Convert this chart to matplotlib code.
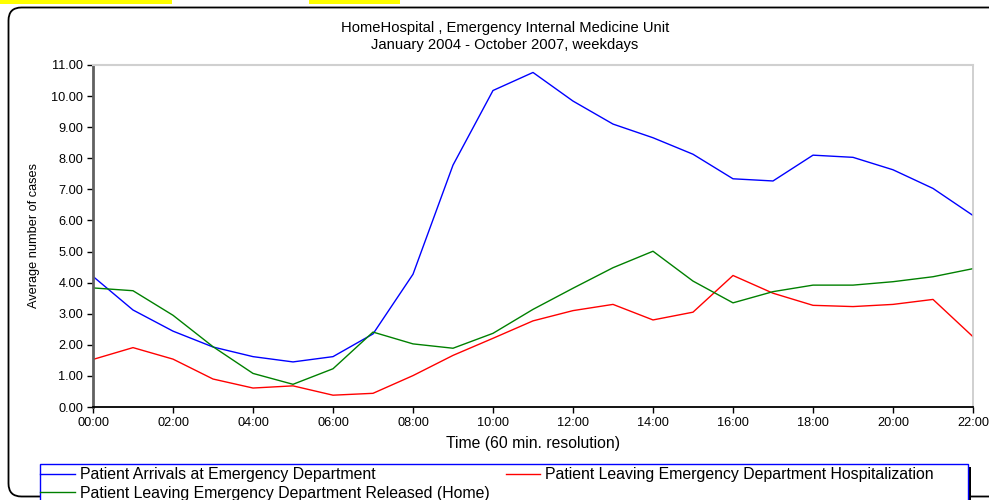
import matplotlib
matplotlib.use("Agg")
import matplotlib.pyplot as plt
from matplotlib.patches import FancyBboxPatch, Rectangle
from matplotlib.lines import Line2D

plt.rcParams["font.family"] = ["Liberation Sans", "DejaVu Sans"]

hours = list(range(23))
tick_hours = list(range(0, 23, 2))
tick_labels = [f"{h:02d}:00" for h in tick_hours]

arrivals = [4.20, 3.12, 2.44, 1.93, 1.62, 1.45, 1.62, 2.35, 4.27, 7.78, 10.18, 10.76,
            9.84, 9.10, 8.66, 8.13, 7.34, 7.27, 8.10, 8.03, 7.63, 7.03, 6.16]
hospitalized = [1.53, 1.91, 1.54, 0.90, 0.61, 0.68, 0.38, 0.44, 1.01, 1.66, 2.21, 2.77,
                3.10, 3.30, 2.80, 3.05, 4.23, 3.66, 3.27, 3.23, 3.30, 3.46, 2.26]
released = [3.83, 3.74, 2.95, 1.94, 1.08, 0.73, 1.23, 2.41, 2.03, 1.89, 2.37, 3.14,
            3.82, 4.48, 5.01, 4.05, 3.35, 3.71, 3.92, 3.92, 4.03, 4.19, 4.45]

y_ticks = [i for i in range(12)]
y_tick_labels = [f"{v:.2f}" for v in y_ticks]

W, H = 989, 500
fig = plt.figure(figsize=(W / 100, H / 100), dpi=100)

# Page-level decorations in pixel coordinates
bg = fig.add_axes([0, 0, 1, 1], zorder=0)
bg.set_xlim(0, W)
bg.set_ylim(H, 0)
bg.axis("off")
bg.add_patch(Rectangle((0, -2), 172, 6, facecolor="#ffff00", edgecolor="none"))
bg.add_patch(Rectangle((309, -2), 91, 6, facecolor="#ffff00", edgecolor="none"))
bg.add_patch(FancyBboxPatch((8.5, 7.5), 1100, 489,
                            boxstyle="round,pad=0,rounding_size=13",
                            facecolor="white", edgecolor="black", linewidth=1.3))
# legend box with dark shadow on the right
bg.add_patch(Rectangle((42, 467), 929, 60, facecolor="black", edgecolor="none"))
bg.add_patch(Rectangle((39.5, 463.5), 928, 60, facecolor="white",
                       edgecolor="#0000ff", linewidth=1.0))

ax = fig.add_axes([93 / W, (H - 407) / H, (973 - 93) / W, (407 - 65) / H], zorder=2)
ax.plot(hours, arrivals, color="#0000ff", linewidth=1.0)
ax.plot(hours, hospitalized, color="#ff0000", linewidth=1.0)
ax.plot(hours, released, color="#008000", linewidth=1.0)

ax.set_xlim(0, 22)
ax.set_ylim(0, 11)
ax.set_xticks(tick_hours)
ax.set_xticklabels(tick_labels)
ax.set_yticks(y_ticks)
ax.set_yticklabels(y_tick_labels)
ax.tick_params(axis="both", direction="out", length=4, width=1, labelsize=9.2,
               colors="black", pad=3)
ax.spines["left"].set_color("#606060")
ax.spines["left"].set_linewidth(2)
ax.spines["bottom"].set_color("black")
ax.spines["bottom"].set_linewidth(1.3)
ax.spines["top"].set_color("#d0d0d0")
ax.spines["top"].set_linewidth(1.5)
ax.spines["right"].set_color("#c8c8c8")
ax.spines["right"].set_linewidth(1.2)

ax.set_xlabel("Time (60 min. resolution)", fontsize=11.3, labelpad=5)
ax.set_ylabel("Average number of cases", fontsize=9.2, labelpad=8)

fig.text(505 / W, 1 - 28 / H, "HomeHospital , Emergency Internal Medicine Unit",
         ha="center", va="center", fontsize=10.6)
fig.text(505 / W, 1 - 45 / H, "January 2004 - October 2007, weekdays",
         ha="center", va="center", fontsize=10.6)

handles = [Line2D([], [], color="#0000ff", lw=1.0),
           Line2D([], [], color="#008000", lw=1.0),
           Line2D([], [], color="#ff0000", lw=1.0)]
labels = ["Patient Arrivals at Emergency Department",
          "Patient Leaving Emergency Department Released (Home)",
          "Patient Leaving Emergency Department Hospitalization"]
leg = fig.legend(handles, labels, ncol=2, loc="upper left",
                 bbox_to_anchor=(38 / W, 1 - 465 / H), frameon=False,
                 fontsize=11.4, handlelength=2.2, handletextpad=0.3,
                 columnspacing=1.0, labelspacing=0.2, borderaxespad=0,
                 borderpad=0.15)

fig.savefig("out.png", dpi=100)
